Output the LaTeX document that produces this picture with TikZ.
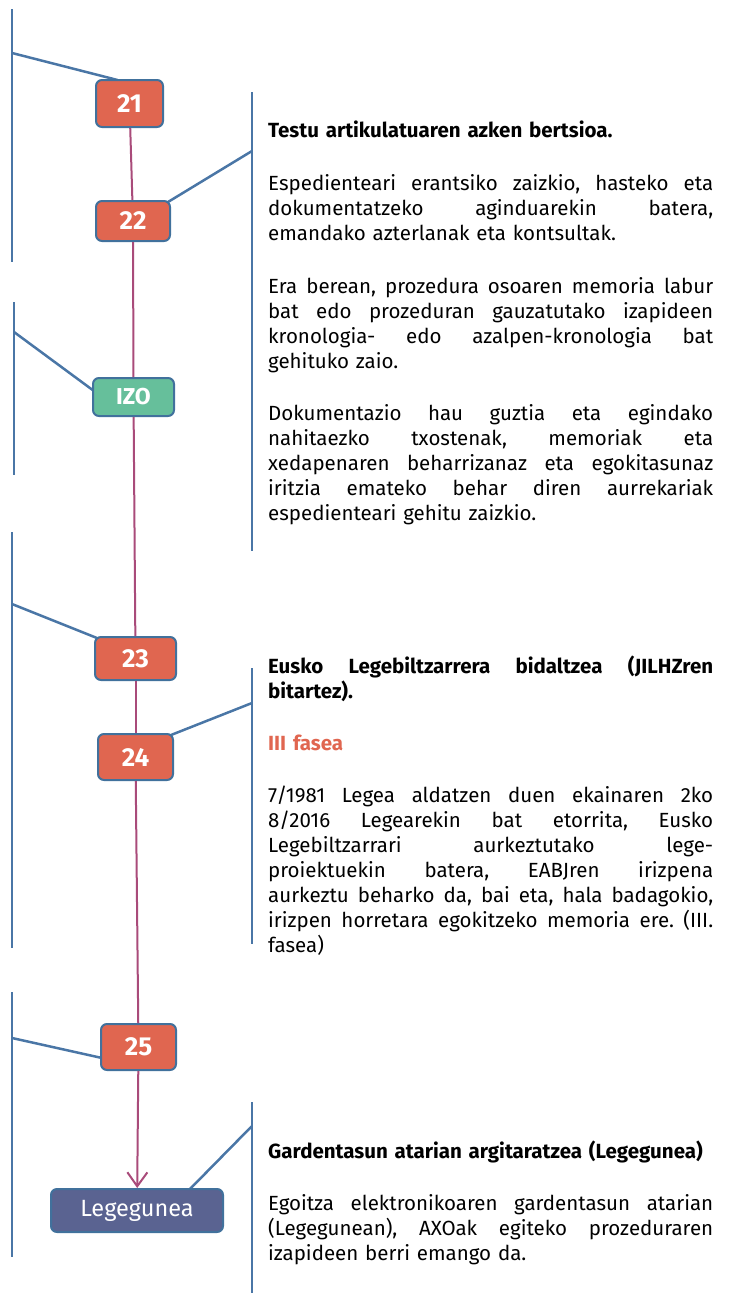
\documentclass[tikz,border=0pt]{standalone}
\usepackage{fontspec}
\setmainfont{Fira Sans}
\usetikzlibrary{arrows.meta,backgrounds,calc}
\definecolor{boxred}{HTML}{E06650}
\definecolor{edgeblue}{HTML}{41719C}
\definecolor{linkblue}{HTML}{4A76A6}
\definecolor{izogreen}{HTML}{66BF9B}
\definecolor{legblue}{HTML}{5A6391}
\definecolor{flowpink}{HTML}{A94B7A}
\newlength\txtw
\setlength\txtw{445pt}
\newcommand\jline[1]{{\frenchspacing\spaceskip=0pt\xspaceskip=0pt\makebox[\txtw][s]{#1}}}
\begin{document}
\begin{tikzpicture}[x=1pt,y=-1pt,
  stepbox/.style={draw=edgeblue, line width=2pt, rounded corners=6pt, fill=boxred,
     text=white, font=\bfseries\fontsize{26}{26}\selectfont, inner sep=0pt},
  izobox/.style={stepbox, fill=izogreen, font=\bfseries\fontsize{23}{23}\selectfont},
  legbox/.style={stepbox, fill=legblue, font=\fontsize{23.5}{23.5}\selectfont},
  para/.style={anchor=base west, text width=\txtw, align=left, inner sep=0pt,
     font=\fontsize{20.5}{25}\selectfont},
  brk/.style={draw=linkblue, line width=2.5pt},
  flow/.style={draw=flowpink, line width=2pt}]
\useasboundingbox (0,0) rectangle (729,1293);

% step nodes
\node[stepbox, minimum width=67pt, minimum height=47pt] (n21) at (129.5,103.5) {21};
\node[stepbox, minimum width=74pt, minimum height=40pt] (n22) at (133,221) {22};
\node[izobox, minimum width=81pt, minimum height=38pt] (izo) at (133.5,397) {IZO};
\node[stepbox, minimum width=81pt, minimum height=43pt] (n23) at (135.5,658.5) {23};
\node[stepbox, minimum width=75pt, minimum height=46pt] (n24) at (135.5,757) {24};
\node[stepbox, minimum width=75pt, minimum height=46pt] (n25) at (138.5,1047) {25};
\node[legbox, minimum width=172pt, minimum height=43pt] (leg) at (137,1210.5) {Legegunea};

% bracket coordinates
\coordinate (L1a) at (12,9);    \coordinate (L1b) at (12,262);  \coordinate (L1m) at (12,53);
\coordinate (L2a) at (14,302);  \coordinate (L2b) at (14,475);  \coordinate (L2m) at (14,332);
\coordinate (L3a) at (12,532);  \coordinate (L3b) at (12,948);  \coordinate (L3m) at (12,604);
\coordinate (L4a) at (12,992);  \coordinate (L4b) at (12,1257); \coordinate (L4m) at (12,1038);
\coordinate (R1a) at (252,92);  \coordinate (R1b) at (252,551); \coordinate (R1m) at (252,151);
\coordinate (R2a) at (252,668); \coordinate (R2b) at (252,944); \coordinate (R2m) at (252,703);
\coordinate (R3a) at (252,1102);\coordinate (R3b) at (252,1293);\coordinate (R3m) at (252,1126);

\begin{scope}[on background layer]
  \draw[brk] (L1a) -- (L1b);
  \draw[brk] (L1m) -- ([xshift=-12pt,yshift=-1pt]n21.north);
  \draw[brk] (L2a) -- (L2b);
  \draw[brk] (L2m) -- ([yshift=6pt,xshift=2pt]izo.west);
  \draw[brk] (L3a) -- (L3b);
  \draw[brk] (L3m) -- ([xshift=3pt,yshift=-2pt]n23.north west);
  \draw[brk] (L4a) -- (L4b);
  \draw[brk] (L4m) -- ([yshift=-11pt,xshift=2pt]n25.west);
  \draw[brk] (R1a) -- (R1b);
  \draw[brk] (R1m) -- ([xshift=-3pt,yshift=-2pt]n22.north east);
  \draw[brk] (R2a) -- (R2b);
  \draw[brk] (R2m) -- ([xshift=-3pt,yshift=-2pt]n24.north east);
  \draw[brk] (R3a) -- (R3b);
  \draw[brk] (R3m) -- ([xshift=52pt,yshift=-2pt]leg.north);
\end{scope}

% flow connectors
\draw[flow] (n21) -- (n22);
\draw[flow] (n22) -- (izo);
\draw[flow] (izo) -- (n23);
\draw[flow] (n23) -- (n24);
\draw[flow] (n24) -- (n25);
\draw[flow, -{Straight Barb[length=14pt,width=20pt,line width=2pt]}] (n25) -- (leg);

% text block 1
\node[para] (t1h) at (268,137) {\textbf{Testu artikulatuaren azken bertsioa.}};
\node[para] (t1a) at (268,190) {\jline{Espedienteari erantsiko zaizkio, hasteko eta}\\
\jline{dokumentatzeko aginduarekin batera,}\\
emandako azterlanak eta kontsultak.};
\node[para] (t1b) at (268,293) {\jline{Era berean, prozedura osoaren memoria labur}\\
\jline{bat edo prozeduran gauzatutako izapideen}\\
\jline{kronologia- edo azalpen-kronologia bat}\\
gehituko zaio.};
\node[para] (t1c) at (268,420) {\jline{Dokumentazio hau guztia eta egindako}\\
\jline{nahitaezko txostenak, memoriak eta}\\
\jline{xedapenaren beharrizanaz eta egokitasunaz}\\
\jline{iritzia emateko behar diren aurrekariak}\\
espedienteari gehitu zaizkio.};

% text block 2
\node[para] (t2h) at (268,673) {\bfseries\jline{Eusko Legebiltzarrera bidaltzea (JILHZren}\\
bitartez).};
\node[para, text=boxred] (t2f) at (268,750) {\textbf{III fasea}};
\node[para] (t2a) at (268,802) {\jline{7/1981 Legea aldatzen duen ekainaren 2ko}\\
\jline{8/2016 Legearekin bat etorrita, Eusko}\\
\jline{Legebiltzarrari aurkeztutako lege-}\\
\jline{proiektuekin batera, EABJren irizpena}\\
\jline{aurkeztu beharko da, bai eta, hala badagokio,}\\
\jline{irizpen horretara egokitzeko memoria ere. (III.}\\
fasea)};

% text block 3
\node[para] (t3h) at (268,1158) {\textbf{Gardentasun atarian argitaratzea (Legegunea)}};
\node[para] (t3a) at (268,1210) {\jline{Egoitza elektronikoaren gardentasun atarian}\\
\jline{(Legegunean), AXOak egiteko prozeduraren}\\
izapideen berri emango da.};
\end{tikzpicture}
\end{document}
